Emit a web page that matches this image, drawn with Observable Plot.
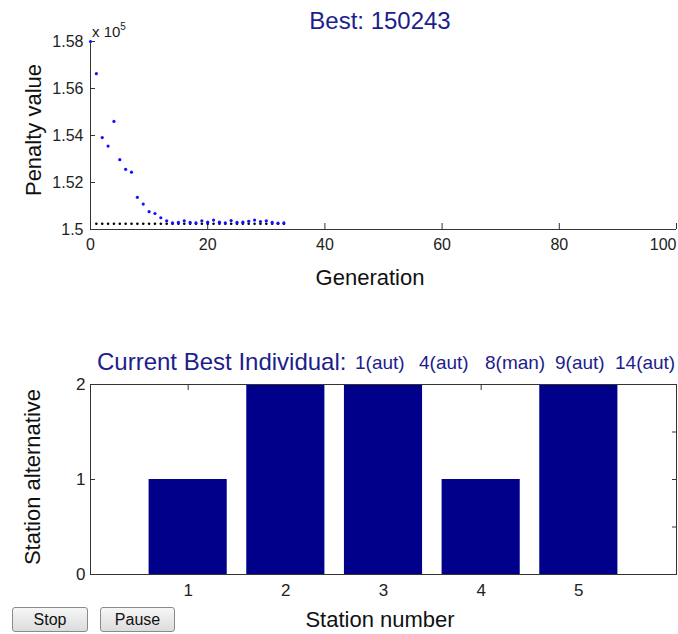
<!DOCTYPE html>
<html><head><meta charset="utf-8">
<script src="https://cdn.jsdelivr.net/npm/d3@7"></script>
<script src="https://cdn.jsdelivr.net/npm/@observablehq/plot@0.6"></script>
<style>
body{margin:0;background:#fff;font-family:"Liberation Sans",Arial,sans-serif;}
#wrap{position:relative;width:678px;height:634px;overflow:hidden;background:#fff;}
.abs{position:absolute;white-space:nowrap;line-height:1;}
.c{transform:translate(-50%,-50%);}
.rot{transform:translate(-50%,-50%) rotate(-90deg);}
.btn{position:absolute;height:25px;border:1px solid #8a8a8a;border-radius:3px;
 background:linear-gradient(#f6f6f6,#dcdcdc);font-size:16px;color:#111;
 display:flex;align-items:center;justify-content:center;box-sizing:border-box;}
svg{position:absolute;left:0;}
</style></head><body><div id="wrap"></div>
<script>
// ---- Data ----
const generations = [0,1,2,3,4,5,6,7,8,9,10,11,12,13,14,15,16,17,18,19,20,21,22,23,24,25,26,27,28,29,30,31,32,33];
const meanPenalty = [158000,156630,153910,153550,154600,152970,152560,152440,151370,151080,150760,150680,150500,150370,150280,150300,150370,150300,150280,150370,150310,150400,150310,150280,150380,150300,150310,150350,150400,150340,150370,150300,150270,150280];
const bestGenerations = [1,2,3,4,5,6,7,8,9,10,11,12,13,14,15,16,17,18,19,20,21,22,23,24,25,26,27,28,29,30,31,32,33];
const bestPenalty = [150243,150243,150243,150243,150243,150243,150243,150243,150243,150243,150243,150243,150243,150243,150243,150243,150243,150243,150243,150243,150243,150243,150243,150243,150243,150243,150243,150243,150243,150243,150243,150243,150243];
const genTicks = [0,20,40,60,80];
const genLastTick = [100];
const penaltyTicks = [150000,152000,154000,156000,158000];
const penaltyTickLabels = ["1.5","1.52","1.54","1.56","1.58"];

const stations = [1,2,3,4,5];
const alternatives = [1,2,2,1,2];
const individualLabels = ["1(aut)","4(aut)","8(man)","9(aut)","14(aut)"];
const altTicks = [0,1,2];
const altRightTicks = [0.5,1,1.5];

// ---- Styles ----
const navy = "#00008b";
const titleColor = "#1d1d8c";
const axisColor = "#333";
const noLabel = () => "";

const wrap = document.getElementById("wrap");

// Top plot
const meanData = generations.map((g,i)=>({g, v: meanPenalty[i]}));
const bestData = bestGenerations.map((g,i)=>({g, v: bestPenalty[i]}));
const topPlot = Plot.plot({
  width: 678, height: 300,
  marginTop: 41, marginBottom: 71, marginLeft: 90, marginRight: 2,
  style: {fontFamily: "Liberation Sans, Arial, sans-serif", fontSize: "16px", color: "#222", background: "transparent", overflow: "visible"},
  x: {domain: [0,100]},
  y: {domain: [150000,158000]},
  marks: [
    Plot.axisY({ticks: penaltyTicks, tickSize: -5, tickPadding: 12, label: null,
      tickFormat: d => penaltyTickLabels[penaltyTicks.indexOf(d)], stroke: axisColor, fill: "#222"}),
    Plot.axisX({ticks: genTicks, tickSize: -6, tickPadding: 15, label: null, stroke: axisColor, fill: "#222"}),
    Plot.axisX({ticks: genLastTick, tickSize: -6, tickPadding: 15, label: null, textAnchor: "end", stroke: axisColor, fill: "#222"}),
    Plot.ruleX([0], {stroke: axisColor}),
    Plot.ruleY([150000], {stroke: axisColor}),
    Plot.dot(bestData, {x: "g", y: "v", r: 1.3, fill: "#000", stroke: null}),
    Plot.dot(meanData, {x: "g", y: "v", r: 1.6, fill: "#1010ff", stroke: null})
  ]
});
topPlot.style.top = "0px";
wrap.appendChild(topPlot);

// Bottom plot
const barData = stations.map((s,i)=>({s, a: alternatives[i]}));
const barWidth = 0.8;
const bottomPlot = Plot.plot({
  width: 678, height: 270,
  marginTop: 44, marginBottom: 36, marginLeft: 90, marginRight: 2,
  style: {fontFamily: "Liberation Sans, Arial, sans-serif", fontSize: "17px", color: "#222", background: "transparent", overflow: "visible"},
  x: {domain: [0,6]},
  y: {domain: [0,2]},
  marks: [
    Plot.axisY({ticks: altTicks, tickSize: -5, tickPadding: 10, label: null, tickFormat: d => String(d), stroke: axisColor, fill: "#222"}),
    Plot.axisY({anchor: "right", ticks: altRightTicks, tickSize: -5, tickFormat: noLabel, label: null, stroke: axisColor}),
    Plot.axisX({ticks: stations, tickSize: -5, tickPadding: 14, label: null, tickFormat: d => String(d), stroke: axisColor, fill: "#222"}),
    Plot.axisX({anchor: "top", ticks: stations, tickSize: -5, tickFormat: noLabel, label: null, stroke: axisColor}),
    Plot.rectY(barData, {x1: d => d.s - barWidth/2, x2: d => d.s + barWidth/2, y: "a", fill: navy}),
    Plot.frame({stroke: axisColor})
  ]
});
bottomPlot.style.top = "340px";
wrap.appendChild(bottomPlot);

function addText(txt, x, y, size, cls, color) {
  const d = document.createElement("div");
  d.className = "abs " + cls;
  d.style.left = x + "px"; d.style.top = y + "px";
  d.style.fontSize = size + "px"; d.style.color = color || "#111";
  d.textContent = txt;
  wrap.appendChild(d);
  return d;
}
addText("Best: 150243", 380, 21, 24, "c", titleColor);
const mult = document.createElement("div");
mult.className = "abs"; mult.style.left = "92px"; mult.style.top = "22px"; mult.style.fontSize = "15px"; mult.style.color = "#222";
mult.innerHTML = "x 10<sup style='font-size:10px;vertical-align:7px'>5</sup>";
wrap.appendChild(mult);
addText("Penalty value", 34, 130, 22, "rot");
addText("Generation", 370, 278, 22, "c");

addText("Current Best Individual:", 97, 350, 24, "", titleColor);
const itemX = [355, 419, 485, 555, 615];
individualLabels.forEach((t,i) => addText(t, itemX[i], 353, 19, "", titleColor));
addText("Station alternative", 33, 477, 22, "rot");
addText("Station number", 380, 620, 22, "c");

const b1 = document.createElement("div"); b1.className = "btn"; b1.style.left = "12px"; b1.style.top = "607px"; b1.style.width = "76px"; b1.textContent = "Stop"; wrap.appendChild(b1);
const b2 = document.createElement("div"); b2.className = "btn"; b2.style.left = "100px"; b2.style.top = "607px"; b2.style.width = "75px"; b2.textContent = "Pause"; wrap.appendChild(b2);
</script>
</body></html>
